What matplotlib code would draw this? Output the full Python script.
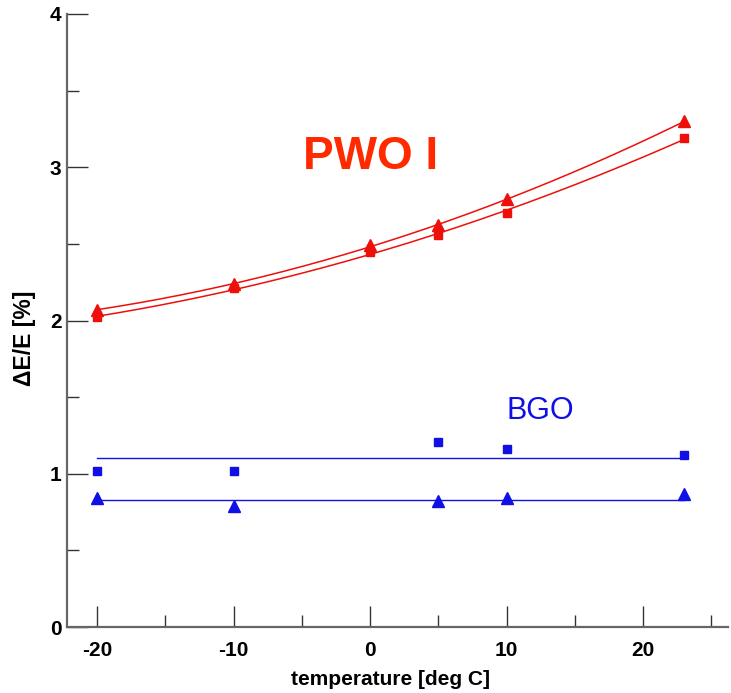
import numpy as np
import matplotlib
matplotlib.use("Agg")
import matplotlib.pyplot as plt
from matplotlib.ticker import MultipleLocator

plt.rcParams['font.family'] = ['Liberation Sans', 'DejaVu Sans']
plt.rcParams['axes.unicode_minus'] = False

# Measured energy resolution vs. temperature
temperature = [-20, -10, 0, 5, 10, 23]
pwo_tri = [2.07, 2.24, 2.49, 2.62, 2.79, 3.30]
pwo_sq = [2.02, 2.21, 2.45, 2.56, 2.70, 3.19]

bgo_temperature = [-20, -10, 5, 10, 23]
bgo_sq = [1.02, 1.02, 1.21, 1.16, 1.12]
bgo_tri = [0.84, 0.79, 0.82, 0.84, 0.87]

red = '#ee0f0a'
blue = '#1010e6'

fig = plt.figure(figsize=(7.31, 6.93), dpi=100)
ax = fig.add_axes([0.0917, 0.0952, 0.904, 0.8846])

xfit = np.linspace(min(temperature), max(temperature), 200)
for vals, marker, ms in ((pwo_tri, '^', 8), (pwo_sq, 's', 6)):
    coef = np.polyfit(temperature, vals, 2)
    ax.plot(xfit, np.polyval(coef, xfit), color=red, lw=1.1)
    ax.plot(temperature, vals, linestyle='none', marker=marker, ms=ms,
            color=red, mec=red)

for vals, marker, ms in ((bgo_sq, 's', 6), (bgo_tri, '^', 8)):
    level = np.mean(vals)
    ax.plot([min(bgo_temperature), max(bgo_temperature)], [level, level],
            color=blue, lw=1.0)
    ax.plot(bgo_temperature, vals, linestyle='none', marker=marker, ms=ms,
            color=blue, mec=blue)

ax.text(0, 3.07, 'PWO I', color='#ff2a00', fontsize=33, ha='center',
        va='center', fontweight='bold')
ax.text(12.45, 1.41, 'BGO', color=blue, fontsize=22, ha='center', va='center')

ax.set_xlim(-22.2, 26.2)
ax.set_ylim(0, 4)
ax.xaxis.set_major_locator(MultipleLocator(10))
ax.xaxis.set_minor_locator(MultipleLocator(5))
ax.yaxis.set_major_locator(MultipleLocator(1))
ax.yaxis.set_minor_locator(MultipleLocator(0.5))

axis_col = '#666666'
for side in ('top', 'right'):
    ax.spines[side].set_visible(False)
for side in ('left', 'bottom'):
    ax.spines[side].set_color(axis_col)
    ax.spines[side].set_linewidth(1.6)

ax.tick_params(which='major', direction='in', length=15, width=1.0,
               color='#333333', labelsize=15)
ax.tick_params(axis='x', which='major', pad=10)
ax.tick_params(axis='y', which='major', pad=4)
ax.tick_params(which='minor', direction='in', length=8.5, width=1.0,
               color='#333333')
for lab in ax.get_xticklabels() + ax.get_yticklabels():
    lab.set_fontweight('bold')

ax.set_xlabel('temperature [deg C]', fontsize=15, fontweight='bold',
              va='center', ha='center')
ax.set_ylabel('ΔE/E [%]', fontsize=16.5, fontweight='bold',
              va='center', ha='center')
ax.xaxis.set_label_coords(0.489, -0.086)
ax.yaxis.set_label_coords(-0.064, 0.471)

fig.savefig('out.png', dpi=100)
